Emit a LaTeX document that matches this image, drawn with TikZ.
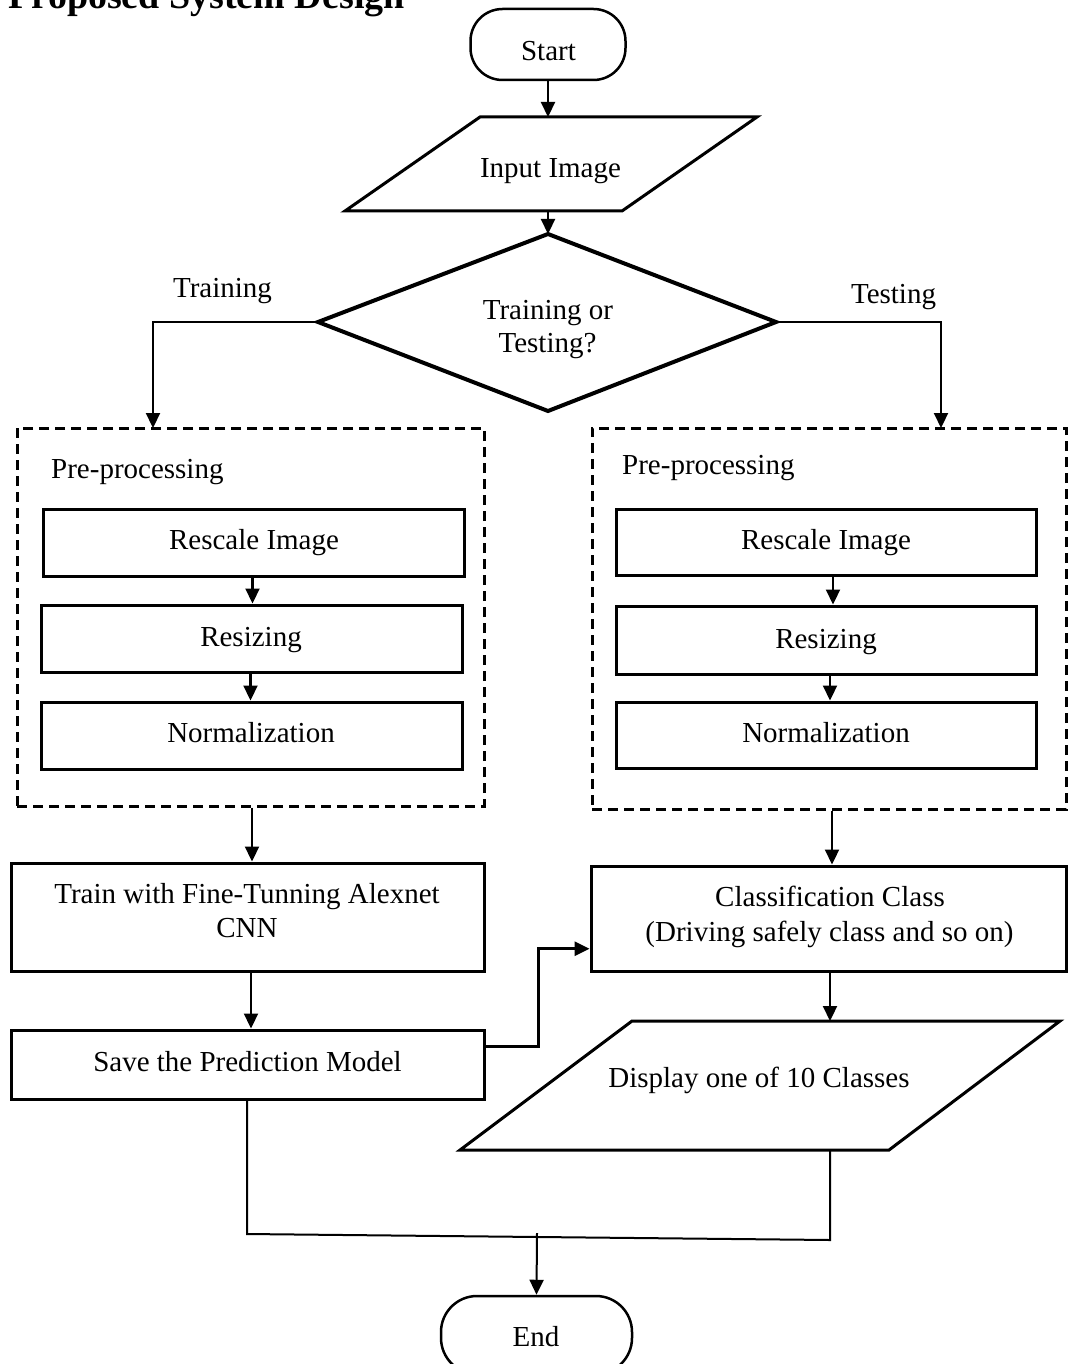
\documentclass[tikz,border=0pt]{standalone}
\usepackage{fontspec}
\setmainfont{Liberation Serif}
\usetikzlibrary{shapes.geometric,arrows.meta,calc}
\begin{document}
\begin{tikzpicture}[x=1pt,y=-1pt,
  txt/.style={font=\fontsize{29}{34}\selectfont, inner sep=0pt, anchor=base, yshift=-2pt},
  box/.style={draw, line width=3pt, rectangle, inner sep=0pt, minimum width=#1},
  box/.default=421pt,
  dbox/.style={draw, line width=3pt, dash pattern=on 10pt off 6pt, rectangle, inner sep=0pt},
  term/.style={draw, line width=2.5pt, inner sep=0pt},
  shp/.style={draw, line width=3pt, line join=miter},
  conn/.style={line width=2.2pt},
  arr/.style={conn, -{Triangle[length=15pt,width=14pt]}},
]
\useasboundingbox (0,0) rectangle (1068,1364);

% title (cut by the page edge)
\node[font=\bfseries\fontsize{38}{40}\selectfont, anchor=base east, inner sep=0pt] (title) at (405,9) {Proposed System Design};

% start
\node[term, rounded corners=32pt, minimum width=155pt, minimum height=71pt] (start) at (548,44.5) {};
\node[txt] (startT) at (548.5,59) {Start};

% input image parallelogram
\coordinate (inTL) at (480,117);
\coordinate (inTR) at (757,117);
\coordinate (inBR) at (622,211);
\coordinate (inBL) at (345,211);
\draw[shp] (inTL) -- (inTR) -- (inBR) -- (inBL) -- cycle;
\coordinate (inTop) at (548,117);
\coordinate (inBot) at (548,211);
\node[txt] (input) at (550.5,176) {Input Image};

% decision diamond
\coordinate (diaN) at (548,234);
\coordinate (diaE) at (776,322);
\coordinate (diaS) at (548,411);
\coordinate (diaW) at (318,322);
\draw[draw, line width=4pt, line join=miter] (diaN) -- (diaE) -- (diaS) -- (diaW) -- cycle;
\node[txt] (dia1) at (548,317.5) {Training or};
\node[txt] (dia2) at (547.5,350.5) {Testing?};

\node[txt] (lbTrain) at (222.5,295) {Training};
\node[txt] (lbTest) at (893.5,301) {Testing};

% dashed pre-processing boxes
\node[dbox, minimum width=467pt, minimum height=378pt] (dL) at (250.5,617) {};
\node[dbox, minimum width=474pt, minimum height=381pt] (dR) at (829,618.5) {};
\node[txt, anchor=base west] (ppL) at (51,476) {Pre-processing};
\node[txt, anchor=base west] (ppR) at (622,472) {Pre-processing};

% left inner steps
\node[box, minimum height=67pt] (L1) at (253.5,542.5) {};
\node[box, minimum height=67pt] (L2) at (251.5,638.5) {};
\node[box, minimum height=67pt] (L3) at (251.5,735.5) {};
\node[txt] (L1T) at (254,547.5) {Rescale Image};
\node[txt] (L2T) at (251,644) {Resizing};
\node[txt] (L3T) at (251,740) {Normalization};
% right inner steps
\node[box=420pt, minimum height=66pt] (R1) at (826,542) {};
\node[box=420pt, minimum height=68pt] (R2) at (826,640) {};
\node[box=420pt, minimum height=66pt] (R3) at (826,735) {};
\node[txt] (R1T) at (826,547.5) {Rescale Image};
\node[txt] (R2T) at (826,646) {Resizing};
\node[txt] (R3T) at (826,740) {Normalization};

% train / save
\node[box=473pt, minimum height=108pt] (train) at (247.5,917) {};
\node[txt] (trainT1) at (247,901.5) {Train with Fine-Tunning Alexnet};
\node[txt] (trainT2) at (247,935.5) {CNN};
\node[box=473pt, minimum height=69pt] (save) at (247.5,1064.5) {};
\node[txt] (saveT) at (247.5,1069) {Save the Prediction Model};

% classification
\node[box=475pt, minimum height=105pt] (class) at (828.5,918.5) {};
\node[txt] (classT1) at (830,904) {Classification Class};
\node[txt] (classT2) at (829.5,939) {(Driving safely class and so on)};

% display parallelogram
\coordinate (dTL) at (632,1021);
\coordinate (dTR) at (1060,1021);
\coordinate (dBR) at (889,1150);
\coordinate (dBL) at (460,1150);
\draw[shp] (dTL) -- (dTR) -- (dBR) -- (dBL) -- cycle;
\coordinate (dTop) at (830,1021);
\coordinate (dBot) at (830,1150);
\node[txt] (disp) at (759,1085.5) {Display one of 10 Classes};

% end
\node[term, rounded corners=36pt, minimum width=191pt, minimum height=78pt] (end) at (536.5,1335) {};
\node[txt] (endT) at (536,1344.5) {End};

% connectors
\draw[arr] (start.south) -- (inTop);
\draw[arr] (inBot) -- (diaN);
\coordinate (dLin) at (153,428);
\coordinate (dRin) at (941,428);
\draw[arr] (diaW) -| (dLin);
\draw[arr] (diaE) -| (dRin);

\draw[arr] ([xshift=-1pt]L1.south) -- ([xshift=-1pt]L1.south |- L2.north);
\draw[arr] ([xshift=-1pt]L2.south) -- ([xshift=-1pt]L2.south |- L3.north);
\draw[arr] ([xshift=7pt]R1.south) -- ([xshift=7pt]R1.south |- R2.north);
\draw[arr] ([xshift=4pt]R2.south) -- ([xshift=4pt]R2.south |- R3.north);

\draw[arr] ([xshift=1.5pt]dL.south) -- ([xshift=1.5pt]dL.south |- train.north);
\draw[arr] ([xshift=3.5pt]train.south) -- ([xshift=3.5pt]train.south |- save.north);
\draw[arr] ([xshift=3pt]dR.south) -- ([xshift=3pt]dR.south |- class.north);
\draw[arr] ([xshift=1.5pt]class.south) -- (dTop);

\coordinate (sE) at ($(save.north east)!0.25!(save.south east)$);
\coordinate (cW) at ($(class.north west)!0.78!(class.south west)$);
\coordinate (jog) at (538,1000);
\draw[conn, line width=3pt, -{Triangle[length=15pt,width=14pt]}] (sE) -- (sE -| jog) -- (jog |- cW) -- (cW);

\coordinate (jl) at (247,1234);
\coordinate (jr) at (830,1240);
\coordinate (jm) at (537,1233);
\draw[conn, line width=2pt] ([xshift=-0.5pt]save.south) -- (jl) -- (jr) -- (dBot);
\draw[arr, line width=2pt] (jm) -- (end.north);
\end{tikzpicture}
\end{document}
